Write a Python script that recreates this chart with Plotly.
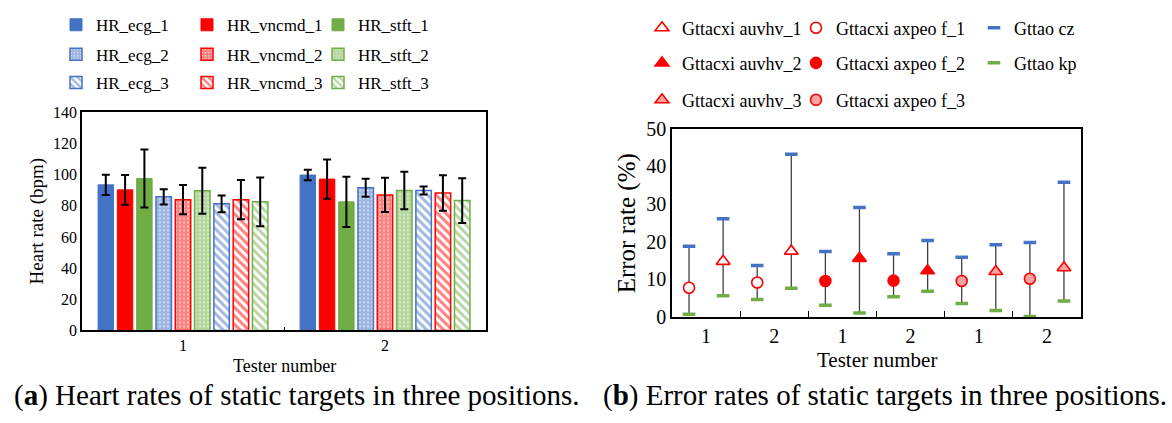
import plotly.graph_objects as go

# ---------------- Panel (a): heart rates ----------------
testers = ["1", "2"]
hr_names = ["HR_ecg_1", "HR_vncmd_1", "HR_stft_1",
            "HR_ecg_2", "HR_vncmd_2", "HR_stft_2",
            "HR_ecg_3", "HR_vncmd_3", "HR_stft_3"]
hr_mean = [
    [93.5, 99.8],   # HR_ecg_1
    [90.3, 97.2],   # HR_vncmd_1
    [97.6, 82.6],   # HR_stft_1
    [85.8, 91.7],   # HR_ecg_2
    [84.0, 87.0],   # HR_vncmd_2
    [89.7, 89.9],   # HR_stft_2
    [81.3, 89.9],   # HR_ecg_3
    [84.0, 88.2],   # HR_vncmd_3
    [82.6, 83.4],   # HR_stft_3
]
hr_std = [
    [6.5, 3.4],
    [9.5, 12.6],
    [18.6, 16.1],
    [4.9, 5.8],
    [9.4, 11.0],
    [14.7, 12.0],
    [5.4, 2.6],
    [12.6, 11.4],
    [15.7, 14.4],
]

# ---------------- Panel (b): error rates ----------------
err_ticklabels = ["1", "2", "1", "2", "1", "2"]
circ_names = ["Gttacxi axpeo f_1", "Gttacxi axpeo f_2", "Gttacxi axpeo f_3"]
tri_names = ["Gttacxi auvhv_1", "Gttacxi auvhv_2", "Gttacxi auvhv_3"]
circ_mean = [7.8, 9.2, 9.6, 9.7, 9.6, 10.2]
circ_max = [18.8, 13.7, 17.4, 16.8, 15.9, 19.8]
circ_min = [0.8, 4.7, 3.2, 5.4, 3.6, 0.2]
tri_mean = [14.8, 17.5, 15.6, 12.3, 12.1, 13.1]
tri_max = [26.1, 43.2, 29.1, 20.3, 19.2, 35.8]
tri_min = [5.7, 7.7, 1.1, 6.9, 1.8, 4.3]
max_name = "Gttao cz"
min_name = "Gttao kp"

BLUE, RED, GREEN = "#4472C4", "#FF0000", "#70AD47"
LIGHT = {BLUE: "#9DB4E0", RED: "#FF8080", GREEN: "#B4D59C"}
FONT = "Liberation Serif"
W, H = 1172, 423

fig = go.Figure()

base_colors = [BLUE, RED, GREEN]
for k, name in enumerate(hr_names):
    col = base_colors[k % 3]
    style = k // 3
    if style == 0:
        marker = dict(color=col, line=dict(color=col, width=1))
    elif style == 1:
        marker = dict(color=LIGHT[col], line=dict(color=col, width=1.5),
                      pattern=dict(shape=".", fgcolor="white", bgcolor=LIGHT[col],
                                   size=4, solidity=0.25))
    else:
        marker = dict(color="white", line=dict(color=col, width=1.5),
                      pattern=dict(shape="\\", fgcolor=col, bgcolor="white",
                                   size=6, solidity=0.5))
    fig.add_trace(go.Bar(
        x=testers, y=hr_mean[k], name=name, marker=marker,
        error_y=dict(type="data", array=hr_std[k], color="black",
                     thickness=2, width=4),
        xaxis="x", yaxis="y", legend=["legend", "legend2", "legend3"][style],
    ))

# error-rate panel: points placed at category index +/- 0.25
pos = list(range(len(err_ticklabels)))
circ_x = [p - 0.25 for p in pos]
tri_x = [p + 0.25 for p in pos]
all_x = circ_x + tri_x
all_max = circ_max + tri_max
all_min = circ_min + tri_min

# connectors from min to max drawn as one-sided error bars on the min series
fig.add_trace(go.Scatter(
    x=all_x, y=all_min, mode="markers", name=min_name,
    marker=dict(symbol="line-ew", size=9, line=dict(color=GREEN, width=3.5)),
    error_y=dict(type="data", symmetric=False,
                 array=[mx - mn for mx, mn in zip(all_max, all_min)],
                 arrayminus=[0] * len(all_min), color="#404040",
                 thickness=1.3, width=0),
    xaxis="x2", yaxis="y2", legend="legend5", legendrank=3,
))
fig.add_trace(go.Scatter(
    x=all_x, y=all_max, mode="markers", name=max_name,
    marker=dict(symbol="line-ew", size=9, line=dict(color=BLUE, width=3.5)),
    xaxis="x2", yaxis="y2", legend="legend4", legendrank=3,
))

fills = ["white", RED, "#F5A3A3"]
row_legends = ["legend4", "legend5", "legend6"]
for g in range(3):
    idx = [2 * g, 2 * g + 1]
    fig.add_trace(go.Scatter(
        x=[tri_x[i] for i in idx], y=[tri_mean[i] for i in idx],
        mode="markers", name=tri_names[g],
        marker=dict(symbol="triangle-up", size=12, color=fills[g],
                    line=dict(color=RED, width=1.6)),
        xaxis="x2", yaxis="y2", legend=row_legends[g], legendrank=1,
        legendwidth=109,
    ))
    fig.add_trace(go.Scatter(
        x=[circ_x[i] for i in idx], y=[circ_mean[i] for i in idx],
        mode="markers", name=circ_names[g],
        marker=dict(symbol="circle", size=11, color=fills[g],
                    line=dict(color=RED, width=1.6)),
        xaxis="x2", yaxis="y2", legend=row_legends[g], legendrank=2,
        legendwidth=133,
    ))

axis_common = dict(showline=True, linecolor="black", linewidth=1.5, mirror=True,
                   showgrid=False, zeroline=False)

def py(y):
    return 1 - y / H

def px(x):
    return x / W

layout_legends = {}
for i, yy in enumerate([15, 46, 76]):
    key = "legend" if i == 0 else f"legend{i + 1}"
    layout_legends[key] = dict(
        orientation="h", x=px(56), xanchor="left", y=py(yy), yanchor="middle",
        entrywidth=86, entrywidthmode="pixels", bgcolor="rgba(0,0,0,0)",
        font=dict(family=FONT, size=17, color="black"), itemwidth=30,
        traceorder="normal",
    )
for i, yy in enumerate([18, 55, 94]):
    layout_legends[f"legend{i + 4}"] = dict(
        orientation="h", x=px(642), xanchor="left", y=py(yy), yanchor="middle",
        bgcolor="rgba(0,0,0,0)", font=dict(family=FONT, size=18, color="black"),
        itemwidth=30, traceorder="normal",
    )

fig.update_layout(
    width=W, height=H, margin=dict(l=0, r=0, t=0, b=0),
    paper_bgcolor="white", plot_bgcolor="white",
    barmode="group", bargap=0.14, bargroupgap=0.2,
    font=dict(family=FONT, color="black"),
    showlegend=True,
    xaxis=dict(domain=[px(82), px(486)], anchor="y", type="category",
               tickson="boundaries", ticks="inside", ticklen=4, tickcolor="black",
               tickfont=dict(size=16), **axis_common),
    yaxis=dict(domain=[py(337), py(107)], anchor="x", range=[0, 140], dtick=20,
               ticks="", tickfont=dict(size=16), **axis_common),
    xaxis2=dict(domain=[px(672), px(1081)], anchor="y2", range=[-0.5, 5.5],
                tickmode="array", tickvals=pos, ticktext=err_ticklabels, ticks="",
                minor=dict(tickmode="array",
                           tickvals=[p + 0.5 for p in pos[:-1]],
                           ticks="inside", ticklen=6, tickcolor="black"),
                tickfont=dict(size=20), **axis_common),
    yaxis2=dict(domain=[py(323), py(124)], anchor="x2", range=[0, 50], dtick=10,
                ticks="", tickfont=dict(size=20), **axis_common),
    **layout_legends,
)

annotations = [
    dict(text="Heart rate (bpm)", x=px(37), y=py(222), textangle=-90,
         font=dict(size=19)),
    dict(text="Tester number", x=px(284), y=py(374), font=dict(size=18)),
    dict(text="Error rate (%)", x=px(627), y=py(224), textangle=-90,
         font=dict(size=25)),
    dict(text="Tester number", x=px(877), y=py(368), font=dict(size=21)),
    dict(text="(<b>a</b>) Heart rates of static targets in three positions.",
         x=px(297), y=py(406), font=dict(size=29)),
    dict(text="(<b>b</b>) Error rates of static targets in three positions.",
         x=px(885), y=py(406), font=dict(size=29)),
]
for a in annotations:
    a.update(xref="paper", yref="paper", showarrow=False,
             xanchor="center", yanchor="middle")
    a["font"].update(family=FONT, color="black")
fig.update_layout(annotations=annotations)

fig.write_html("out.html")
